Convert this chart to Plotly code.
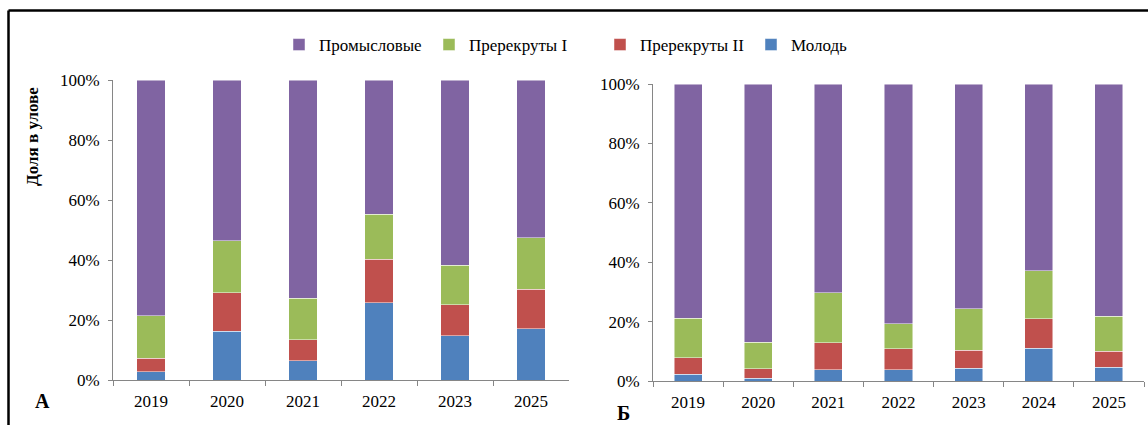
import plotly.graph_objects as go

# Categories (survey years) for the two panels
years_a = ["2019", "2020", "2021", "2022", "2023", "2025"]
years_b = ["2019", "2020", "2021", "2022", "2023", "2024", "2025"]

# Panel А: share in catch, %
molod_a = [2.8, 16.3, 6.5, 25.8, 14.7, 17.1]
prerec2_a = [4.4, 12.8, 6.9, 14.5, 10.4, 13.2]
prerec1_a = [14.2, 17.4, 13.8, 14.9, 13.1, 17.1]
prom_a = [78.6, 53.5, 72.8, 44.8, 61.8, 52.6]

# Panel Б: share in catch, %
molod_b = [2.2, 0.9, 3.8, 3.8, 4.3, 11.0, 4.7]
prerec2_b = [5.7, 3.3, 9.1, 7.1, 6.1, 9.9, 5.3]
prerec1_b = [13.3, 8.8, 16.8, 8.3, 13.9, 16.3, 11.8]
prom_b = [78.8, 87.0, 70.3, 80.8, 75.7, 62.8, 78.2]

y_tickvals = [0, 20, 40, 60, 80, 100]
y_ticktext = ["0%", "20%", "40%", "60%", "80%", "100%"]

names = ["Молодь", "Пререкруты II", "Пререкруты I", "Промысловые"]
colors = ["#4F81BD", "#C0504D", "#9BBB59", "#8064A2"]

W, H = 1148, 425


def px(x):
    return x / W


def py(y):
    return 1 - y / H


FONT = "Liberation Serif, Times New Roman, serif"
AXIS_GRAY = "#868686"

fig = go.Figure()

series_a = [molod_a, prerec2_a, prerec1_a, prom_a]
series_b = [molod_b, prerec2_b, prerec1_b, prom_b]
legend_ids = ["legend4", "legend3", "legend2", "legend"]

for i, (name, col) in enumerate(zip(names, colors)):
    fig.add_trace(go.Bar(
        x=years_a, y=series_a[i], name=name, width=0.38,
        marker=dict(color=col, line=dict(color="rgba(255,255,255,0.6)", width=0.8)),
        xaxis="x", yaxis="y", legend=legend_ids[i], showlegend=True,
    ))
    fig.add_trace(go.Bar(
        x=years_b, y=series_b[i], name=name, width=0.40,
        marker=dict(color=col, line=dict(color="rgba(255,255,255,0.6)", width=0.8)),
        xaxis="x2", yaxis="y2", showlegend=False,
    ))

xaxis_common = dict(
    type="category", tickson="boundaries", ticks="outside", ticklen=5,
    tickcolor=AXIS_GRAY, showline=True, linecolor=AXIS_GRAY, linewidth=1,
    showgrid=False, zeroline=False, tickfont=dict(family=FONT, size=17, color="black"),
    ticklabelstandoff=6, fixedrange=True, automargin=False,
)
yaxis_common = dict(
    range=[0, 100], tickmode="array", tickvals=y_tickvals, ticktext=y_ticktext,
    ticks="outside", ticklen=4,
    tickcolor=AXIS_GRAY, showline=True, linecolor=AXIS_GRAY, linewidth=1,
    showgrid=False, zeroline=False, tickfont=dict(family=FONT, size=17, color="black"),
    ticklabelstandoff=5, fixedrange=True, automargin=False,
)

legend_common = dict(
    orientation="h", yanchor="middle", xanchor="left", y=py(45),
    xref="container", yref="container",
    font=dict(family=FONT, size=17, color="black"),
    bgcolor="rgba(0,0,0,0)", borderwidth=0,
)

fig.update_layout(
    width=W, height=H, margin=dict(l=0, r=0, t=0, b=0, autoexpand=False),
    paper_bgcolor="white", plot_bgcolor="white",
    barmode="stack",
    xaxis=dict(domain=[px(113), px(569)], anchor="y", **xaxis_common),
    yaxis=dict(domain=[py(380), py(80)], anchor="x", **yaxis_common),
    xaxis2=dict(domain=[px(653), px(1144)], anchor="y2", **xaxis_common),
    yaxis2=dict(domain=[py(381), py(84)], anchor="x2", **yaxis_common),
    legend=dict(x=px(279), **legend_common),
    legend2=dict(x=px(429), **legend_common),
    legend3=dict(x=px(600), **legend_common),
    legend4=dict(x=px(751), **legend_common),
    showlegend=True,
    annotations=[
        dict(text="<b>Доля в улове</b>", x=px(33), y=py(137), xref="paper", yref="paper",
             xanchor="center", yanchor="middle",
             textangle=-90, showarrow=False, font=dict(family=FONT, size=17, color="black")),
        dict(text="<b>А</b>", x=px(42), y=py(401), xref="paper", yref="paper",
             xanchor="center", yanchor="middle",
             showarrow=False, font=dict(family=FONT, size=20, color="black")),
        dict(text="<b>Б</b>", x=px(623), y=py(413), xref="paper", yref="paper",
             xanchor="center", yanchor="middle",
             showarrow=False, font=dict(family=FONT, size=20, color="black")),
    ],
    shapes=[
        dict(type="line", xref="paper", yref="paper", x0=px(8.5), x1=1.01,
             y0=py(10.5), y1=py(10.5), line=dict(color="black", width=2.5)),
        dict(type="line", xref="paper", yref="paper", x0=px(8.5), x1=px(8.5),
             y0=py(10.5), y1=-0.05, line=dict(color="black", width=2.5)),
    ],
)

fig.write_html("out.html")
